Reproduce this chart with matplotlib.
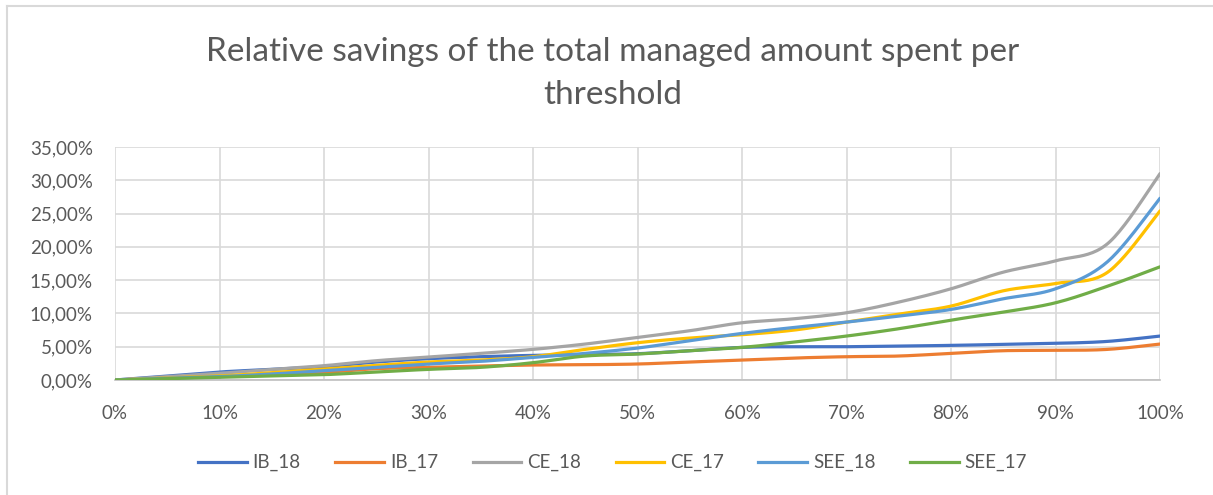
import numpy as np
import matplotlib
matplotlib.use("Agg")
import matplotlib.pyplot as plt
from matplotlib.lines import Line2D
from matplotlib.ticker import FuncFormatter

plt.rcParams["font.family"] = ["Lato", "DejaVu Sans"]

# threshold (%) and relative savings (%) per series
thresholds = [0, 5, 10, 15, 20, 25, 30, 35, 40, 45, 50, 55, 60, 65, 70, 75, 80, 85, 90, 95, 100]
ib_18 = [0, 0.6, 1.2, 1.6, 2.0, 2.7, 3.2, 3.5, 3.7, 3.8, 3.95, 4.4, 4.9, 5.0, 5.0, 5.1, 5.2, 5.35, 5.5, 5.8, 6.6]
ib_17 = [0, 0.3, 0.6, 0.9, 1.15, 1.7, 1.9, 2.1, 2.25, 2.3, 2.4, 2.7, 3.0, 3.3, 3.5, 3.6, 4.0, 4.4, 4.45, 4.6, 5.4]
ce_18 = [0, 0.5, 1.0, 1.6, 2.15, 2.9, 3.45, 4.0, 4.6, 5.4, 6.4, 7.4, 8.6, 9.2, 10.1, 11.7, 13.7, 16.2, 17.9, 20.5, 31.0]
ce_17 = [0, 0.3, 0.6, 1.1, 1.65, 2.2, 2.7, 3.0, 3.5, 4.6, 5.6, 6.3, 6.8, 7.5, 8.7, 9.9, 11.1, 13.4, 14.5, 16.2, 25.4]
see_18 = [0, 0.25, 0.5, 0.9, 1.4, 1.9, 2.4, 2.8, 3.4, 4.0, 4.8, 5.9, 7.0, 7.9, 8.7, 9.6, 10.6, 12.2, 13.7, 17.8, 27.3]
see_17 = [0, 0.2, 0.4, 0.6, 0.8, 1.2, 1.6, 1.9, 2.6, 3.6, 3.9, 4.4, 4.9, 5.7, 6.6, 7.7, 9.0, 10.2, 11.6, 14.1, 17.0]

names = ["IB_18", "IB_17", "CE_18", "CE_17", "SEE_18", "SEE_17"]
colors = ["#4472C4", "#ED7D31", "#A5A5A5", "#FFC000", "#5B9BD5", "#70AD47"]
series = [ib_18, ib_17, ce_18, ce_17, see_18, see_17]


def smooth(x, y, n=24):
    # Catmull-Rom curve through the points, like Excel's smoothed lines
    pts = np.column_stack([x, y]).astype(float)
    P = np.vstack([pts[0], pts, pts[-1]])
    t = np.linspace(0, 1, n, endpoint=False)[:, None]
    out = []
    for i in range(1, len(P) - 2):
        p0, p1, p2, p3 = P[i - 1], P[i], P[i + 1], P[i + 2]
        c = 0.5 * (2 * p1 + (-p0 + p2) * t + (2 * p0 - 5 * p1 + 4 * p2 - p3) * t ** 2
                   + (-p0 + 3 * p1 - 3 * p2 + p3) * t ** 3)
        out.append(c)
    out.append(pts[-1:])
    c = np.vstack(out)
    return c[:, 0], c[:, 1]


fig = plt.figure(figsize=(12.13, 4.95), dpi=100)
ax = fig.add_axes([115 / 1213, 115 / 495, (1160 - 115) / 1213, (380 - 147) / 495])

for vals, name, col in zip(series, names, colors):
    sx, sy = smooth(thresholds, vals)
    ax.plot(sx, sy, color=col, lw=2.3, label=name, solid_capstyle="round", zorder=3)

ax.set_xlim(0, 100)
ax.set_ylim(0, 35)
ax.set_xticks(range(0, 101, 10))
ax.set_yticks(range(0, 36, 5))
ax.xaxis.set_major_formatter(FuncFormatter(lambda v, p: f"{int(v)}%"))
ax.yaxis.set_major_formatter(FuncFormatter(lambda v, p: f"{v:.2f}".replace(".", ",") + "%"))
ax.grid(True, color="#D9D9D9", lw=1.2, zorder=0)
for s in ["top", "right", "left"]:
    ax.spines[s].set_visible(False)
ax.spines["bottom"].set_color("#BFBFBF")
ax.spines["bottom"].set_linewidth(1.2)
ax.tick_params(length=0, labelsize=13.5, colors="#595959")
ax.tick_params(axis="x", pad=18)
ax.tick_params(axis="y", pad=16)

fig.text(0.505, 0.895, "Relative savings of the total managed amount spent per",
         ha="center", va="center", fontsize=24, color="#595959")
fig.text(0.505, 0.808, "threshold", ha="center", va="center", fontsize=24,
         color="#595959")

handles = [Line2D([0], [0], color=c, lw=2.3) for c in colors]
fig.legend(handles, names, loc="center", bbox_to_anchor=(0.505, 0.065), ncol=6,
           frameon=False, fontsize=13.5, labelcolor="#595959", handlelength=2.6,
           handletextpad=0.3, columnspacing=1.85)

# light chart-area border along top and left
fig.add_artist(Line2D([7 / 1213, 1], [1 - 6 / 495, 1 - 6 / 495], color="#D9D9D9", lw=1.5))
fig.add_artist(Line2D([7 / 1213, 7 / 1213], [0, 1 - 6 / 495], color="#D9D9D9", lw=1.5))

fig.savefig("out.png", dpi=100)
